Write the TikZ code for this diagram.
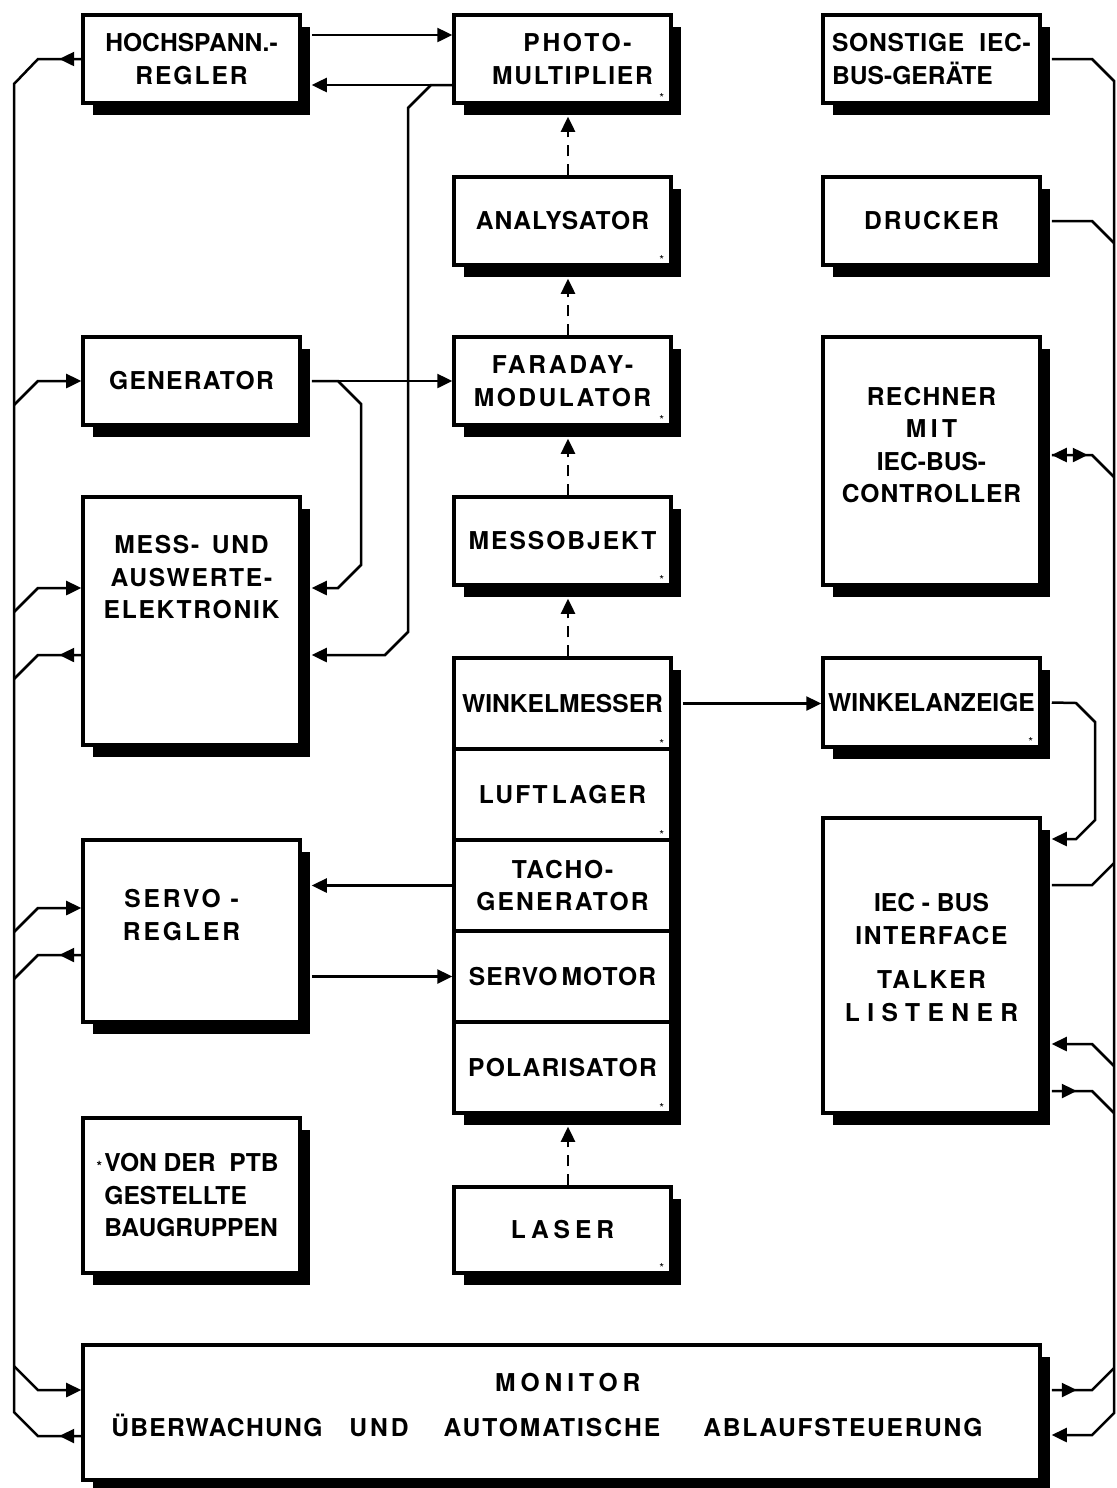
\documentclass[tikz,border=0pt]{standalone}
\usepackage{fontspec}
\usepackage{tikz}
\usetikzlibrary{positioning, arrows.meta, shadows}
\newfontfamily\boxfont{TeX Gyre Heros}
\newcommand{\lsp}[2]{{\addfontfeature{LetterSpace=#1}#2}}

\begin{document}
\begin{tikzpicture}[x=0.2mm, y=-0.2mm,
  blk/.style={draw, line width=0.7mm, fill=white, align=center, inner sep=0.5mm,
    minimum width=43.4mm, minimum height=17.6mm,
    font=\boxfont\bfseries\fontsize{14}{18.5}\selectfont,
    drop shadow={shadow xshift=2mm, shadow yshift=-2.4mm, fill=black, opacity=1}},
  ln/.style={line width=0.5mm},
  arr/.style={ln, -{Triangle[length=3mm, width=2.8mm]}},
  dblarr/.style={ln, {Triangle[length=3mm, width=2.8mm]}-{Triangle[length=3mm, width=2.8mm]}},
  beam/.style={arr, dash pattern=on 2.2mm off 1.6mm},
  ptbmark/.style={font=\boxfont\scriptsize, inner sep=0pt}]
\useasboundingbox (0,0) rectangle (1117,1488);

% left column
\node[blk] (hvreg) at (191.5,59) {HOCHSPANN.-\\\lsp{8}{REGLER}};
\node[blk] (gen) at (191.5,381) {\lsp{5}{GENERATOR}};
\node[blk, minimum height=49.6mm] (mess) at (191.5,621)
  {\lsp{7}{MESS-\hspace{2.5mm}UND}\\\lsp{7}{AUSWERTE-}\\\lsp{7}{ELEKTRONIK}\\[11mm]~};
\node[blk, minimum height=36.4mm] (servoreg) at (191.5,931)
  {\lsp{12}{SERVO -}\rule{4mm}{0pt}\\\lsp{12}{REGLER}\rule{4mm}{0pt}\\~};
\node[blk, minimum height=31mm, align=left] (ptb) at (191.5,1195.5)
  {\llap{\footnotesize *\,}VON DER~~PTB\\GESTELLTE\\BAUGRUPPEN};

% optical path
\node[blk] (pmt) at (562.5,59) {\hspace*{6mm}\lsp{11}{PHOTO-}\\\hspace*{4mm}\lsp{7}{MULTIPLIER}};
\node[blk] (analys) at (562.5,221) {\lsp{4}{ANALYSATOR}};
\node[blk] (faraday) at (562.5,381) {\lsp{11}{FARADAY-}\\\lsp{10}{MODULATOR}};
\node[blk] (messobj) at (562.5,541) {\lsp{8}{MESSOBJEKT}};
\node[blk, minimum height=18.2mm] (winkel) at (562.5,703.5) {WINKELMESSER};
\node[blk, minimum height=18.2mm] (luft) at (562.5,794.5) {\lsp{9}{LUFT\,LAGER}};
\node[blk, minimum height=18.2mm] (tacho) at (562.5,885.5) {\lsp{7}{TACHO-}\\\lsp{9}{GENERATOR}};
\node[blk, minimum height=18.2mm] (motor) at (562.5,976.5) {\lsp{4}{SERVO\,MOTOR}};
\node[blk, minimum height=18.2mm] (polar) at (562.5,1067.5) {\lsp{5}{POLARISATOR}};
\node[blk, minimum height=17.2mm] (laser) at (562.5,1230) {\lsp{20}{LASER}};

% right column
\node[blk, align=left] (sonst) at (931.5,59) {\lsp{3}{SONSTIGE~~IEC-}\\BUS-GERÄTE};
\node[blk] (drucker) at (931.5,221) {\lsp{8}{DRUCKER}};
\node[blk, minimum height=49.6mm] (rechner) at (931.5,461)
  {\lsp{5}{RECHNER}\\\lsp{18}{MIT}\\IEC-BUS-\\\lsp{4}{CONTROLLER}\\~};
\node[blk, minimum height=17.8mm] (wanz) at (931.5,702.5) {WINKELANZEIGE};
\node[blk, minimum height=59mm] (iec) at (931.5,965.5)
  {IEC - BUS\\\lsp{7}{INTERFACE}\\[2.4mm]\lsp{9}{TALKER}\\\lsp{30}{LISTENER}\\[-3.3mm]~};

% monitor
\node[blk, minimum width=191.4mm, minimum height=27mm] (monitor) at (561.5,1412.5)
  {\hspace*{2.5mm}\lsp{20}{MONITOR}\\[2.5mm]\lsp{5}{ÜBERWACHUNG}\hspace{5.4mm}\lsp{12}{UND}\hspace{7mm}\lsp{8}{AUTOMATISCHE}\hspace{8.6mm}\lsp{7}{ABLAUFSTEUERUNG}\rule{5.8mm}{0pt}\\[-3.3mm]~};

% marks of the PTB assemblies
\foreach \b in {pmt,analys,faraday,messobj,winkel,luft,polar,laser,wanz}
  \node[ptbmark] (\b-mark) at ([xshift=-2.2mm,yshift=1.4mm]\b.south east) {*};

% bus ends
\coordinate (lbtop) at (14,84);
\coordinate (lbbot) at (14,1412);
\coordinate (rbtop) at (1114,81);
\coordinate (rbbot) at (1114,1413);

% beam
\foreach \a/\b in {laser/polar, winkel/messobj, messobj/faraday, faraday/analys, analys/pmt}
  \draw[beam] ([xshift=1.1mm]\a.north) -- ([xshift=1.1mm,yshift=-2.4mm]\b.south);

% signals between the boxes
\draw[arr] ([xshift=2mm]hvreg.east |- 0,35) -- (pmt.west |- 0,35);
\draw[arr] (pmt.west |- 0,85) -- ([xshift=2mm]hvreg.east |- 0,85);
\draw[arr] (pmt.west |- 0,85) -- (431,85) -- (408,108) -- (408,632) -- (385,655) -- ([xshift=2mm]mess.east |- 0,655);
\draw[arr] ([xshift=2mm]gen.east) -- (faraday.west |- gen.east);
\draw[arr] ([xshift=2mm]gen.east) -- (338,381) -- (361,404) -- (361,565) -- (338,588) -- ([xshift=2mm]mess.east |- 0,588);
\draw[arr] (tacho.west) -- ([xshift=2mm]servoreg.east |- tacho.west);
\draw[arr] ([xshift=2mm]servoreg.east |- motor.west) -- (motor.west);
\draw[arr] ([xshift=2mm]winkel.east) -- (wanz.west |- winkel.east);
\draw[arr] ([xshift=2mm]wanz.east) -- (1076,703) -- (1095,722) -- (1095,820) -- (1076,839) -- ([xshift=2mm]iec.east |- 0,839);

% left bus
\draw[ln] (hvreg.west) -- (38,59) -- (lbtop) -- (lbbot) -- ++(24,24) -- (monitor.west |- 0,1436);
\draw[arr] (hvreg.west) -- ++(-22,0);
\draw[arr] (monitor.west |- 0,1436) -- ++(-22,0);
\draw[arr] (lbtop |- 0,1366) -- ++(24,24) -- (monitor.west |- 0,1390);
\foreach \b/\y in {gen/381, mess/588, servoreg/908}
  \draw[arr] (lbtop |- 0,\y+24) -- ++(24,-24) -- (\b.west |- 0,\y);
\foreach \b/\y in {mess/655, servoreg/955} {
  \draw[ln] (\b.west |- 0,\y) -- (38,\y) -- ++(-24,24);
  \draw[arr] (\b.west |- 0,\y) -- ++(-22,0);
}

% right bus
\draw[arr] ([xshift=2mm]sonst.east) -- (1092,59) -- (rbtop) -- (rbbot) -- ++(-22,22) -- ([xshift=2mm]monitor.east |- 0,1435);
\draw[ln] ([xshift=2mm]drucker.east) -- (1092,221) -- (rbtop |- 0,243);
\draw[ln] ([xshift=2mm]rechner.east |- 0,455) -- (1092,455) -- (rbtop |- 0,477);
\draw[dblarr] ([xshift=2mm]rechner.east |- 0,455) -- ++(36,0);
\draw[ln] ([xshift=2mm]iec.east |- 0,885) -- (1092,885) -- (rbtop |- 0,863);
\draw[arr] (rbtop |- 0,1066) -- ++(-22,-22) -- ([xshift=2mm]iec.east |- 0,1044);
\draw[ln] ([xshift=2mm]iec.east |- 0,1091) -- (1092,1091) -- (rbtop |- 0,1113);
\draw[arr] ([xshift=2mm]iec.east |- 0,1091) -- ++(25,0);
\draw[ln] ([xshift=2mm]monitor.east |- 0,1390) -- (1092,1390) -- (rbtop |- 0,1368);
\draw[arr] ([xshift=2mm]monitor.east |- 0,1390) -- ++(25,0);
\end{tikzpicture}
\end{document}
